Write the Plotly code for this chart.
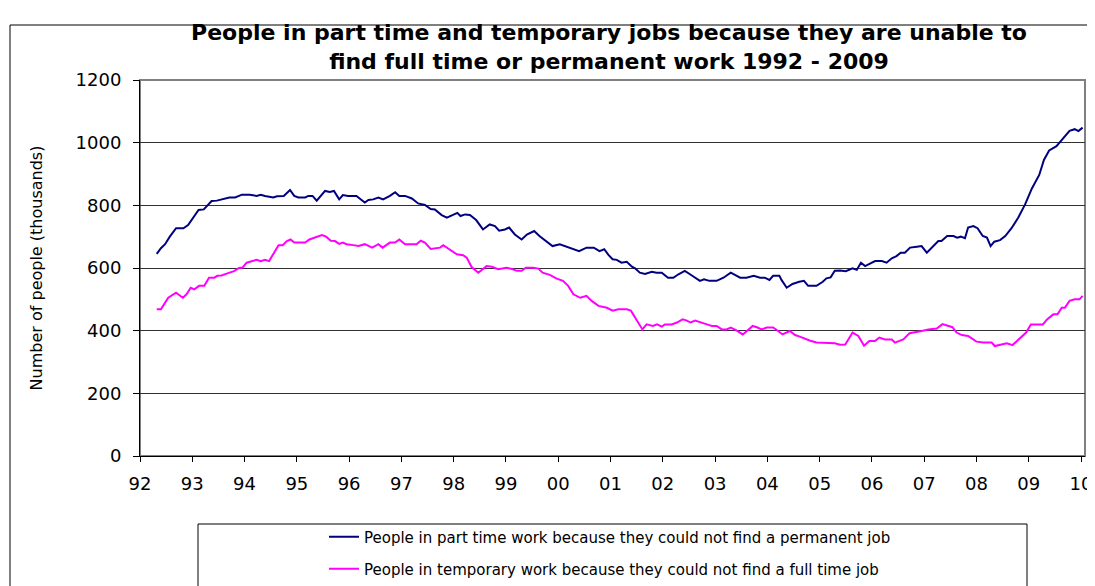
import plotly.graph_objs as go

# Valores (milhares de pessoas), datas em anos decimais
part_time_dates = [
    1992.32, 1992.40, 1992.48, 1992.57, 1992.69, 1992.83, 1992.92, 1993.02, 1993.12, 1993.22,
    1993.37, 1993.47, 1993.56, 1993.71, 1993.82, 1993.95, 1994.10, 1994.23, 1994.31, 1994.39,
    1994.55, 1994.62, 1994.75, 1994.87, 1994.95, 1995.03, 1995.16, 1995.22, 1995.30, 1995.38,
    1995.54, 1995.63, 1995.71, 1995.81, 1995.88, 1995.98, 1996.14, 1996.30, 1996.37, 1996.46,
    1996.56, 1996.65, 1996.78, 1996.88, 1996.96, 1997.07, 1997.20, 1997.32, 1997.45, 1997.56,
    1997.64, 1997.77, 1997.87, 1997.99, 1998.07, 1998.13, 1998.22, 1998.31, 1998.43, 1998.56,
    1998.69, 1998.79, 1998.87, 1998.98, 1999.06, 1999.17, 1999.30, 1999.40, 1999.54, 1999.64,
    1999.77, 1999.89, 2000.03, 2000.16, 2000.28, 2000.40, 2000.54, 2000.68, 2000.79, 2000.88,
    2000.96, 2001.04, 2001.12, 2001.21, 2001.31, 2001.41, 2001.47, 2001.56, 2001.66, 2001.79,
    2001.88, 2001.98, 2002.10, 2002.20, 2002.30, 2002.42, 2002.52, 2002.62, 2002.71, 2002.79,
    2002.89, 2003.03, 2003.16, 2003.30, 2003.38, 2003.48, 2003.60, 2003.74, 2003.86, 2003.95,
    2004.04, 2004.11, 2004.23, 2004.27, 2004.37, 2004.48, 2004.61, 2004.70, 2004.78, 2004.94,
    2005.06, 2005.13, 2005.21, 2005.29, 2005.39, 2005.50, 2005.63, 2005.71, 2005.79, 2005.87,
    2006.06, 2006.19, 2006.28, 2006.38, 2006.47, 2006.55, 2006.63, 2006.73, 2006.86, 2006.95,
    2007.05, 2007.17, 2007.27, 2007.33, 2007.44, 2007.56, 2007.63, 2007.70, 2007.78, 2007.84,
    2007.94, 2008.02, 2008.12, 2008.20, 2008.27, 2008.34, 2008.45, 2008.55, 2008.67, 2008.80,
    2008.93, 2009.06, 2009.20, 2009.29, 2009.39, 2009.53, 2009.63, 2009.67, 2009.78, 2009.88,
    2009.95, 2010.03,
]
part_time_values = [
    645, 663, 676, 700, 727, 727, 737, 762, 785, 787,
    814, 815, 819, 825, 825, 834, 834, 830, 834, 830,
    825, 829, 830, 849, 830, 825, 825, 830, 830, 815,
    846, 843, 846, 819, 833, 830, 830, 809, 817, 819,
    825, 819, 830, 842, 830, 830, 822, 806, 801, 788,
    787, 769, 761, 771, 776, 766, 771, 769, 753, 723,
    739, 734, 719, 723, 729, 707, 691, 707, 718, 702,
    684, 670, 676, 668, 660, 654, 665, 665, 654, 660,
    642, 628, 626, 617, 620, 604, 599, 585, 581, 588,
    585, 585, 569, 569, 580, 591, 580, 570, 559, 564,
    559, 559, 569, 585, 578, 569, 569, 575, 569, 569,
    562, 575, 575, 562, 537, 549, 556, 559, 543, 543,
    556, 567, 570, 591, 592, 590, 599, 594, 617, 606,
    622, 622, 617, 631, 638, 649, 649, 665, 668, 670,
    649, 670, 686, 686, 702, 702, 697, 700, 695, 729,
    734, 727, 702, 697, 670, 684, 689, 702, 727, 761,
    803, 854, 897, 945, 975, 989, 1009, 1017, 1038, 1043,
    1037, 1048,
]

temporary_dates = [
    1992.32, 1992.40, 1992.54, 1992.69, 1992.82, 1992.89, 1992.97, 1993.04, 1993.13, 1993.23,
    1993.32, 1993.42, 1993.48, 1993.56, 1993.67, 1993.80, 1993.90, 1993.96, 1994.04, 1994.14,
    1994.23, 1994.31, 1994.39, 1994.47, 1994.65, 1994.73, 1994.81, 1994.88, 1994.95, 1995.06,
    1995.16, 1995.24, 1995.35, 1995.48, 1995.56, 1995.65, 1995.73, 1995.81, 1995.88, 1995.95,
    1996.08, 1996.18, 1996.30, 1996.44, 1996.56, 1996.64, 1996.78, 1996.88, 1996.96, 1997.07,
    1997.20, 1997.29, 1997.37, 1997.45, 1997.56, 1997.68, 1997.74, 1997.80, 1997.93, 1998.06,
    1998.18, 1998.25, 1998.34, 1998.47, 1998.63, 1998.73, 1998.85, 1999.01, 1999.13, 1999.21,
    1999.30, 1999.38, 1999.52, 1999.62, 1999.70, 1999.84, 1999.96, 2000.09, 2000.19, 2000.29,
    2000.42, 2000.54, 2000.64, 2000.77, 2000.93, 2001.04, 2001.15, 2001.31, 2001.39, 2001.50,
    2001.61, 2001.69, 2001.81, 2001.89, 2001.98, 2002.04, 2002.17, 2002.27, 2002.38, 2002.46,
    2002.53, 2002.62, 2002.71, 2002.83, 2002.94, 2003.03, 2003.13, 2003.22, 2003.30, 2003.40,
    2003.53, 2003.64, 2003.72, 2003.80, 2003.89, 2003.99, 2004.11, 2004.18, 2004.29, 2004.43,
    2004.53, 2004.62, 2004.74, 2004.82, 2004.94, 2005.07, 2005.20, 2005.29, 2005.39, 2005.49,
    2005.63, 2005.74, 2005.85, 2005.95, 2006.06, 2006.14, 2006.25, 2006.38, 2006.44, 2006.60,
    2006.72, 2006.80, 2006.95, 2007.08, 2007.24, 2007.35, 2007.46, 2007.54, 2007.62, 2007.72,
    2007.84, 2008.00, 2008.13, 2008.29, 2008.35, 2008.45, 2008.58, 2008.69, 2008.80, 2008.95,
    2009.04, 2009.15, 2009.27, 2009.35, 2009.47, 2009.55, 2009.63, 2009.69, 2009.78, 2009.88,
    2009.97, 2010.03,
]
temporary_values = [
    468, 468, 505, 521, 505, 516, 537, 532, 543, 543,
    569, 569, 575, 576, 583, 590, 601, 601, 617, 622,
    626, 622, 626, 622, 673, 673, 686, 691, 681, 681,
    681, 691, 698, 705, 700, 687, 686, 677, 681, 676,
    673, 670, 676, 665, 676, 665, 681, 681, 691, 676,
    676, 676, 687, 681, 661, 665, 665, 673, 658, 644,
    641, 633, 604, 585, 606, 604, 596, 601, 596, 591,
    591, 601, 601, 598, 585, 578, 567, 559, 543, 516,
    505, 511, 495, 479, 473, 464, 468, 468, 464, 434,
    404, 420, 415, 420, 413, 420, 420, 426, 436, 432,
    426, 432, 428, 421, 415, 415, 404, 404, 410, 402,
    388, 404, 415, 411, 404, 410, 410, 402, 388, 399,
    386, 381, 372, 368, 362, 362, 362, 360, 355, 356,
    394, 383, 352, 367, 367, 378, 372, 372, 362, 372,
    392, 394, 399, 404, 407, 421, 415, 411, 394, 386,
    383, 365, 362, 362, 351, 354, 360, 354, 370, 394,
    420, 420, 420, 436, 452, 452, 473, 473, 495, 500,
    500, 511,
]

year_ticks = list(range(1992, 2011))
year_labels = ['%02d' % (y % 100) for y in year_ticks]

FONT = 'DejaVu Sans, Verdana, sans-serif'

linha_part = go.Scatter(
    x=part_time_dates,
    y=part_time_values,
    mode='lines',
    name='People in part time work because they could not find a permanent job',
    line=dict(color='#000080', width=2),
    legend='legend',
    showlegend=True,
)

linha_temp = go.Scatter(
    x=temporary_dates,
    y=temporary_values,
    mode='lines',
    name='People in temporary work because they could not find a full time job',
    line=dict(color='#FF00FF', width=2),
    legend='legend2',
    showlegend=True,
)

# a página tem 8px de margem no body; a figura é menor para caber na janela
OFF = 8
W, H = 1095 - OFF, 586 - OFF
# área do gráfico na janela: x=140..1085, y=80..456
L, T = 140 - OFF, 80 - OFF
R = W - (1085 - OFF)
B = H - (456 - OFF)
pw, ph = W - L - R, H - T - B


def px_x(px):
    return (px - OFF - L) / pw


def px_y(py):
    return (H - B - (py - OFF)) / ph


layout = go.Layout(
    width=W,
    height=H,
    margin=dict(l=L, r=R, t=T, b=B, autoexpand=False),
    showlegend=True,
    paper_bgcolor='white',
    plot_bgcolor='white',
    font=dict(family=FONT, color='black'),
    title=dict(
        text='<b>People in part time and temporary jobs because they are unable to<br>'
             'find full time or permanent work 1992 - 2009</b>',
        x=px_x(609), xref='paper', xanchor='center',
        y=1 - 32 / H, yref='container', yanchor='middle',
        font=dict(family=FONT, size=22, color='black'),
    ),
    xaxis=dict(
        range=[1992, 1992 + pw / 52.28],
        tickvals=year_ticks,
        ticktext=year_labels,
        showgrid=False,
        zeroline=False,
        showline=True,
        linecolor='black',
        linewidth=1,
        ticks='outside',
        ticklen=5,
        tickcolor='black',
        ticklabelstandoff=6,
        tickfont=dict(family=FONT, size=18),
    ),
    yaxis=dict(
        range=[0, 1200],
        dtick=200,
        showgrid=True,
        gridcolor='#303030',
        gridwidth=1,
        zeroline=False,
        showline=True,
        linecolor='black',
        linewidth=1,
        ticks='outside',
        ticklen=6,
        tickcolor='black',
        ticklabelstandoff=8,
        tickfont=dict(family=FONT, size=18),
        title=dict(text='Number of people (thousands)', font=dict(family=FONT, size=16), standoff=28),
    ),
    legend=dict(
        x=px_x(324), y=px_y(537), xanchor='left', yanchor='middle',
        bgcolor='rgba(0,0,0,0)', borderwidth=0,
        font=dict(family=FONT, size=15),
    ),
    legend2=dict(
        x=px_x(324), y=px_y(569), xanchor='left', yanchor='middle',
        bgcolor='rgba(0,0,0,0)', borderwidth=0,
        font=dict(family=FONT, size=15),
    ),
    shapes=[
        # moldura externa do gráfico
        dict(type='rect', xref='paper', yref='paper',
             x0=px_x(10), x1=px_x(1110), y0=px_y(600), y1=px_y(25),
             line=dict(color='black', width=1), layer='below'),
        # borda cinza da área de plotagem
        dict(type='rect', xref='paper', yref='paper',
             x0=0, x1=1, y0=0, y1=1,
             line=dict(color='#808080', width=2), layer='below'),
        # caixa da legenda
        dict(type='rect', xref='paper', yref='paper',
             x0=px_x(198), x1=px_x(1027), y0=px_y(600), y1=px_y(524),
             line=dict(color='black', width=1)),
    ],
)

fig = go.Figure(data=[linha_part, linha_temp], layout=layout)
fig.write_html('out.html')
